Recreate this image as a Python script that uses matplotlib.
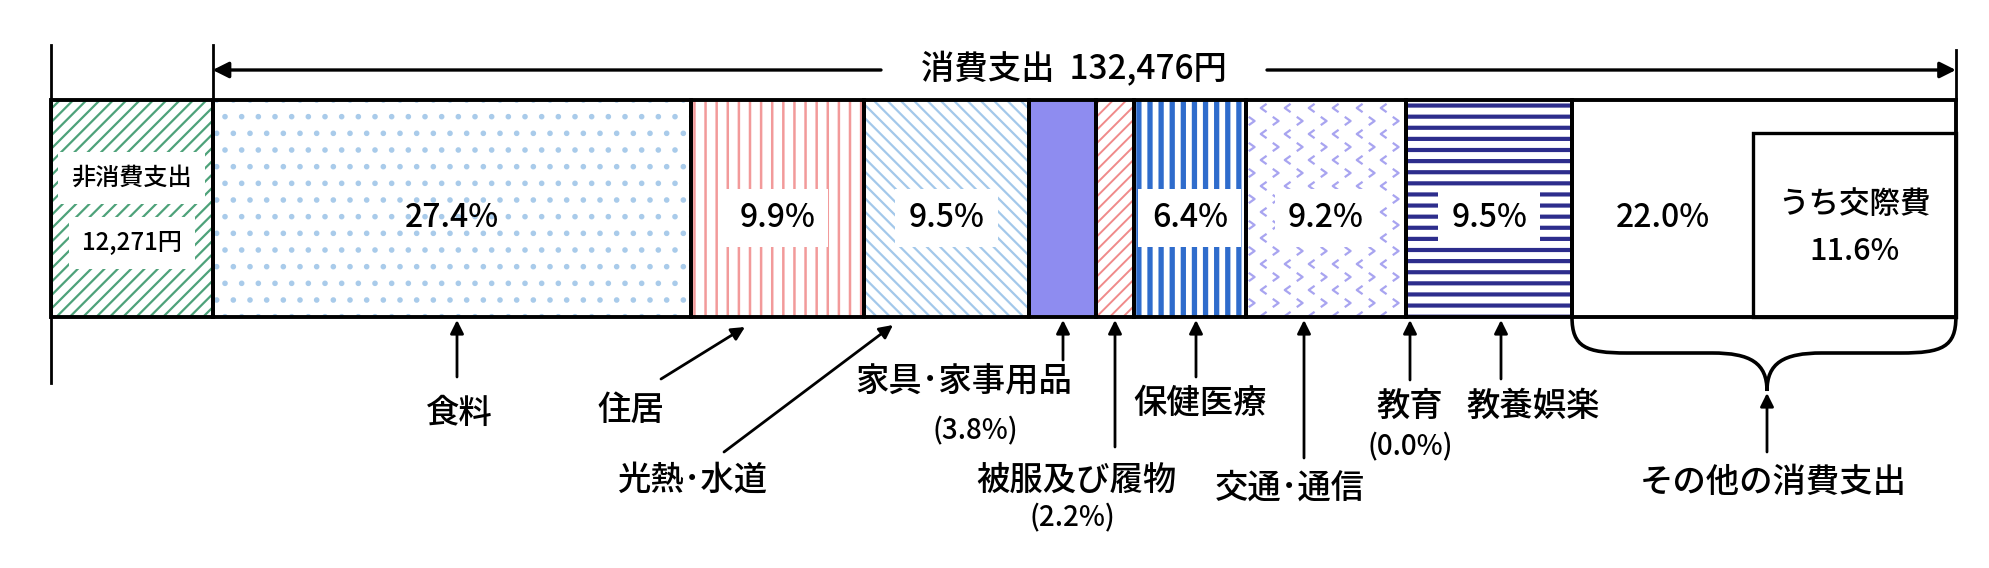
import matplotlib.pyplot as plt
import numpy as np
from matplotlib.path import Path
from matplotlib.patches import PathPatch, Rectangle

plt.rcParams['font.family'] = ['Noto Sans CJK JP', 'DejaVu Sans']

# data
total_yen = 132476
noncons_yen = 12271
categories = ['食料', '住居', '光熱･水道', '家具･家事用品', '被服及び履物',
              '保健医療', '交通･通信', '教育', '教養娯楽', 'その他の消費支出']
shares = [27.4, 9.9, 9.5, 3.8, 2.2, 6.4, 9.2, 0.0, 9.5, 22.0]
kosai_share = 11.6

# styles
colors = ['#a9cbea', '#f29a9a', '#a3c8ea', '#8e8cf0', '#f08a8a',
          '#2f6ccc', '#a8a4f0', '#2d2d8c', '#2d2d8c', 'white']
hatches = ['..', '|||', '\\\\\\\\\\', None, '/////', '|||', None, None, '---', None]
hatch_lw = [0.8, 0.9, 0.8, 1.0, 0.7, 1.9, 0.7, 1.0, 1.5, 1.0]
boxed = [False, True, True, False, False, True, True, False, True, False]
show_pct = [True, True, True, False, False, True, True, False, True, True]
CHEVRON = 6     # index of the bar drawn with a < > pattern

# pixel layout of the figure (1990x568 at dpi 200)
PX0 = 51.0      # pixel of the bar's left edge
PXU = 17.45     # pixels per percent of consumption


def X(px):
    return (px - PX0) / PXU


fig = plt.figure(figsize=(9.95, 2.84), dpi=200)
ax = fig.add_axes([0, 0, 1, 1])
ax.set_xlim(X(0), X(1990))
ax.set_ylim(568, 0)
ax.axis('off')

bar_y, bar_h = 208.5, 217
bar_top, bar_bot = bar_y - bar_h / 2, bar_y + bar_h / 2

noncons = noncons_yen / total_yen * 100
FW = 'medium'

# non-consumption segment
with plt.rc_context({'hatch.linewidth': 0.8}):
    b = ax.barh(bar_y, noncons, left=0, height=bar_h, color='white',
                edgecolor='#4ea27a', hatch='/////', linewidth=0)
for p in b:
    if hasattr(p, 'set_hatch_linewidth'):
        p.set_hatch_linewidth(0.8)
ax.barh(bar_y, noncons, left=0, height=bar_h, fill=False,
        edgecolor='black', linewidth=1.4, zorder=3)

# chevron marker for the 交通・通信 pattern
chev = Path([(-0.35, 0.5), (0.35, 0.0), (-0.35, -0.5)],
            [Path.MOVETO, Path.LINETO, Path.LINETO])
chev_l = Path([(0.35, 0.5), (-0.35, 0.0), (0.35, -0.5)],
              [Path.MOVETO, Path.LINETO, Path.LINETO])

lefts = []
x = noncons
for i, s in enumerate(shares):
    lefts.append(x)
    fc = colors[i] if (hatches[i] is None and i != CHEVRON) else 'white'
    with plt.rc_context({'hatch.linewidth': hatch_lw[i]}):
        bb = ax.barh(bar_y, s, left=x, height=bar_h, color=fc,
                     edgecolor=colors[i], hatch=hatches[i], linewidth=0)
    for p in bb:
        if hasattr(p, 'set_hatch_linewidth'):
            p.set_hatch_linewidth(hatch_lw[i])
    if i == CHEVRON:
        step_x = 24 / PXU
        rows = np.arange(bar_top + 8, bar_bot, 13)
        for r, yy in enumerate(rows):
            xs = np.arange(x + (0.25 if r % 2 else 0.75) * step_x, x + s, step_x)
            sc = ax.scatter(xs, np.full(len(xs), yy), marker=chev if r % 2 else chev_l,
                            s=9, facecolors='none', edgecolors=colors[i],
                            linewidths=0.8, zorder=2)
            sc.set_clip_path(bb[0])
    ax.barh(bar_y, s, left=x, height=bar_h, fill=False,
            edgecolor='black', linewidth=1.4, zorder=3)
    x += s
end = x

# inner box for 交際費
ax.add_patch(Rectangle((end - kosai_share, 133), kosai_share, bar_bot - 133,
                       fill=False, edgecolor='black', linewidth=1.2, zorder=3))
kx = end - kosai_share / 2
ax.text(kx, 205, 'うち交際費', ha='center', va='center', fontsize=11,
        fontweight=FW, zorder=4)
ax.text(kx, 252, f'{kosai_share:.1f}%', ha='center', va='center', fontsize=11,
        fontweight=FW, zorder=4)

# percentages in the bar
for i, s in enumerate(shares):
    if not show_pct[i]:
        continue
    if i == len(shares) - 1:
        cx = (lefts[i] + end - kosai_share) / 2
    else:
        cx = lefts[i] + s / 2
    bbox = dict(boxstyle='square,pad=0.42', fc='white', ec='none') if boxed[i] else None
    ax.text(cx, 218, f'{s:.1f}%', ha='center', va='center', fontsize=11.5,
            fontweight=FW, bbox=bbox, zorder=4)

# non-consumption labels
box = dict(boxstyle='square,pad=0.55', fc='white', ec='none')
ax.text(noncons / 2, 178, '非消費支出', ha='center', va='center', fontsize=8.7,
        fontweight=FW, bbox=box, zorder=4)
ax.text(noncons / 2, 243, f'{noncons_yen:,}円', ha='center', va='center',
        fontsize=8.7, fontweight=FW, bbox=box, zorder=4)

# guide lines and consumption arrow
ax.plot([0, 0], [45, 383], color='black', lw=1.0)
ax.plot([noncons, noncons], [45, bar_top], color='black', lw=1.0)
ax.plot([end, end], [50, bar_top], color='black', lw=1.0)
arw = dict(arrowstyle='-|>', color='black', lw=1.2, mutation_scale=12,
           shrinkA=0, shrinkB=0)
ax.annotate('', xy=(noncons, 70), xytext=(X(881), 70), arrowprops=arw)
ax.annotate('', xy=(end, 70), xytext=(X(1267), 70), arrowprops=arw)
ax.text(X(1074), 70, f'消費支出  {total_yen:,}円', ha='center', va='center',
        fontsize=12, fontweight=FW)

# labels under the bar: text x, text y, head x, head y, tail x, tail y (pixels)
layout = [
    (459, 413, 457, 320, 457, 377),
    (631, 410, 745, 327, 661, 379),
    (692, 480, 893, 325, 724, 452),
    (964, 381, 1063, 320, 1063, 360),
    (1076, 480, 1115, 320, 1115, 447),
    (1200, 404, 1196, 320, 1196, 377),
    (1290, 488, 1304, 320, 1304, 458),
    (1410, 406, 1410, 320, 1410, 380),
    (1533, 406, 1501, 320, 1501, 379),
    (1773, 482, 1767, 393, 1767, 452),
]
sub_pct = {3: (975, 431), 4: (1072, 518), 7: (1410, 447)}
arw2 = dict(arrowstyle='-|>', color='black', lw=1.0, mutation_scale=10,
            shrinkA=0, shrinkB=0)
for i, (tx, ty, hx, hy, sx, sy) in enumerate(layout):
    ax.text(X(tx), ty, categories[i], ha='center', va='center', fontsize=12,
            fontweight=FW)
    ax.annotate('', xy=(X(hx), hy), xytext=(X(sx), sy), arrowprops=arw2)
    if i in sub_pct:
        px, py = sub_pct[i]
        ax.text(X(px), py, f'({shares[i]:.1f}%)', ha='center', va='center',
                fontsize=10, fontweight=FW)

# curly brace under その他
x0, x1 = lefts[-1], end
xm = X(1767)
yb, ym, yp = bar_bot, 353, 391
d = 55 / PXU
verts = [(x0, yb), (x0, ym - 6), (x0 + d * 0.25, ym), (x0 + d, ym),
         (xm - d, ym),
         (xm - d * 0.3, ym), (xm, ym + 10), (xm, yp),
         (xm, ym + 10), (xm + d * 0.3, ym), (xm + d, ym),
         (x1 - d, ym),
         (x1 - d * 0.25, ym), (x1, ym - 6), (x1, yb)]
codes = [Path.MOVETO, Path.CURVE4, Path.CURVE4, Path.CURVE4,
         Path.LINETO,
         Path.CURVE4, Path.CURVE4, Path.CURVE4,
         Path.CURVE4, Path.CURVE4, Path.CURVE4,
         Path.LINETO,
         Path.CURVE4, Path.CURVE4, Path.CURVE4]
ax.add_patch(PathPatch(Path(verts, codes), fill=False, edgecolor='black', lw=1.3))

fig.savefig('out.png', dpi=200, facecolor='white')
